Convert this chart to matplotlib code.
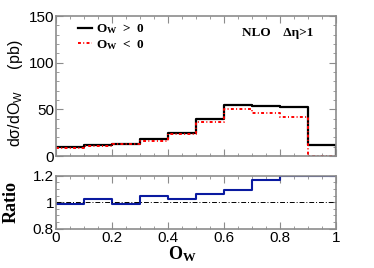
import numpy as np
import matplotlib
matplotlib.use('Agg')
import matplotlib.pyplot as plt

plt.rcParams['mathtext.fontset'] = 'custom'
plt.rcParams['mathtext.bf'] = 'Liberation Serif:bold'
plt.rcParams['mathtext.rm'] = 'Liberation Serif'
plt.rcParams['mathtext.it'] = 'Liberation Serif:italic'

# bin edges in O_W and cross sections (pb)
edges = [0.0, 0.1, 0.2, 0.3, 0.4, 0.5, 0.6, 0.7, 0.8, 0.9, 1.0]
sigma_pos = [10.0, 11.5, 13.3, 18.0, 24.5, 39.6, 55.0, 54.0, 52.0, 12.0]
sigma_neg = [9.0, 10.5, 12.6, 16.2, 23.4, 36.7, 50.0, 45.6, 41.3, 0.5]
ratio = [0.988, 1.022, 0.988, 1.045, 1.025, 1.065, 1.09, 1.17, 1.195, 1.2]

frame = '#8c8c8c'
sans = ['Liberation Sans', 'DejaVu Sans']
serif = ['Liberation Serif', 'DejaVu Serif']

fig = plt.figure(figsize=(3.74, 2.68), dpi=100)
W, H = 374.0, 268.0
ax1 = fig.add_axes([56 / W, 1 - 156 / H, 280 / W, 140 / H])
ax2 = fig.add_axes([56 / W, 1 - 228.7 / H, 280 / W, 53 / H])


def steps(vals):
    return list(vals) + [vals[-1]]


red_ls = (0, (1.5, 1.2, 0.5, 1.2))
ax1.step(edges, steps(sigma_pos), where='post', color='black', lw=1.6)
ax1.vlines(edges[-1], 0, sigma_pos[-1], color='black', lw=1.6)
ax1.step(edges, steps(sigma_neg), where='post', color='red', lw=1.4, linestyle=red_ls)
ax1.set_xlim(0, 1)
ax1.set_ylim(0, 150)
ax1.set_yticks([0, 50, 100, 150])
ax1.set_yticks(np.arange(0, 151, 10), minor=True)
ax1.set_xticks(np.arange(0, 1.01, 0.2))
ax1.set_xticks(np.arange(0, 1.01, 0.05), minor=True)
ax1.set_xticklabels([])
ax1.set_ylabel(r'd$\mathregular{\sigma}$/dO$_\mathregular{W}$     (pb)',
               family=sans, fontsize=11.5)
ax1.yaxis.set_label_coords(-0.11, 0.45)

ax1.plot([], [], color='black', lw=1.6, label=r'O$_\mathbf{W}$  >  0')
ax1.plot([], [], color='red', lw=1.4, linestyle=red_ls, label=r'O$_\mathbf{W}$  <  0')
ax1.legend(loc='upper left', bbox_to_anchor=(0.035, 1.04), frameon=False,
           prop={'family': serif, 'weight': 'bold', 'size': 9.5},
           handlelength=1.1, handletextpad=0.3, labelspacing=0.15)
ax1.text(0.665, 0.855, 'NLO    Δη>1', transform=ax1.transAxes,
         family=serif, fontweight='bold', fontsize=9.5)

ax2.step(edges, steps(ratio), where='post', color='#0a1aa0', lw=1.5)
ax2.axhline(1.0, color='black', lw=0.7, linestyle=(0, (5, 2, 1, 2)))
ax2.set_xlim(0, 1)
ax2.set_ylim(0.8, 1.2)
ax2.set_yticks([0.8, 1.0, 1.2])
ax2.set_yticklabels(['0.8', '1', '1.2'])
ax2.set_yticks(np.arange(0.8, 1.21, 0.05), minor=True)
ax2.set_xticks(np.arange(0, 1.01, 0.2))
ax2.set_xticklabels(['0', '0.2', '0.4', '0.6', '0.8', '1'])
ax2.set_xticks(np.arange(0, 1.01, 0.05), minor=True)
ax2.set_ylabel('Ratio', family=serif, fontweight='bold', fontsize=13)
ax2.yaxis.set_label_coords(-0.13, 0.5)
ax2.set_xlabel(r'O$_\mathbf{W}$', family=serif, fontweight='bold', fontsize=13)
ax2.xaxis.set_label_coords(0.45, -0.3)
ax2.xaxis.label.set_va('top')

for ax in (ax1, ax2):
    for s in ax.spines.values():
        s.set_color(frame)
        s.set_linewidth(1.2)
    ax.tick_params(which='both', direction='in', top=True, right=True,
                   colors=frame, labelcolor='black', labelsize=11, pad=1.5)
    ax.tick_params(which='major', length=5)
    ax.tick_params(which='minor', length=2.5)
    for lab in ax.get_xticklabels() + ax.get_yticklabels():
        lab.set_family(sans)

fig.savefig('out.png', dpi=100)
